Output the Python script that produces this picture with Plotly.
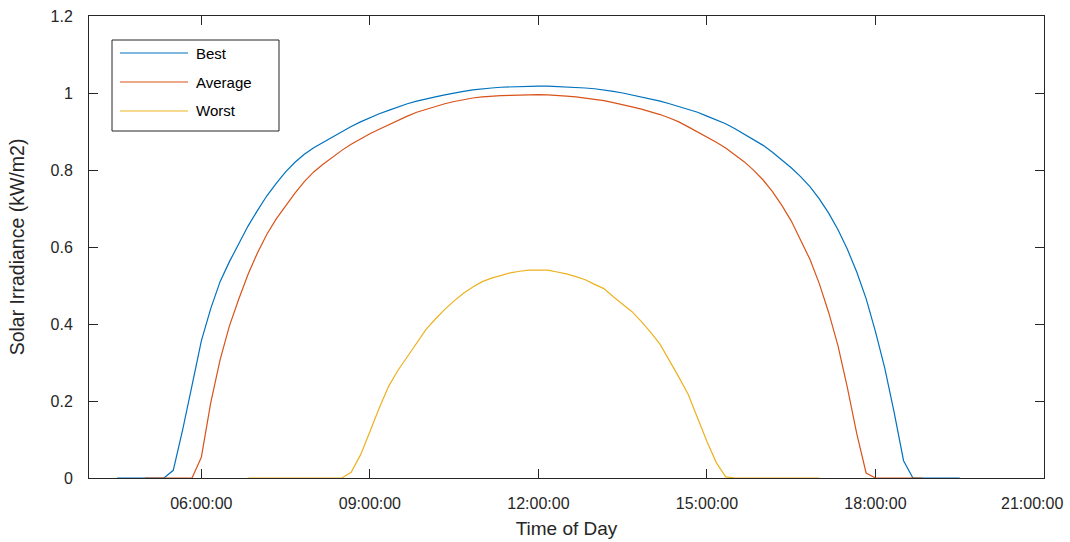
import pandas as pd
import plotly.graph_objects as go

# ---- data (10-minute samples) ----
best_start = "2000-01-01 04:30"
best_values = (
    [0, 0, 0, 0, 0, 0] +                                   # 04:30-05:20
    [0.02, 0.125, 0.24] +                                  # 05:30-05:50
    [0.356, 0.44, 0.51, 0.562, 0.61, 0.655] +              # 06
    [0.695, 0.733, 0.765, 0.795, 0.82, 0.841] +            # 07
    [0.858, 0.872, 0.886, 0.90, 0.913, 0.925] +            # 08
    [0.936, 0.946, 0.955, 0.964, 0.972, 0.979] +           # 09
    [0.985, 0.99, 0.995, 1.0, 1.004, 1.008] +              # 10
    [1.011, 1.013, 1.015, 1.016, 1.017, 1.018] +           # 11
    [1.018, 1.018, 1.017, 1.016, 1.015, 1.013] +           # 12
    [1.011, 1.008, 1.004, 1.0, 0.995, 0.99] +              # 13
    [0.985, 0.979, 0.972, 0.965, 0.958, 0.95] +            # 14
    [0.94, 0.93, 0.92, 0.907, 0.893, 0.879] +              # 15
    [0.864, 0.846, 0.827, 0.806, 0.783, 0.757] +           # 16
    [0.725, 0.688, 0.645, 0.594, 0.535, 0.466] +           # 17
    [0.38, 0.285, 0.17, 0.045] +                           # 18:00-18:30
    [0, 0, 0, 0, 0, 0]                                     # 18:40-19:30
)

average_start = "2000-01-01 05:00"
average_values = (
    [0, 0, 0, 0, 0, 0] +                                   # 05:00-05:50
    [0.054, 0.195, 0.307, 0.395, 0.465, 0.53] +            # 06
    [0.585, 0.633, 0.673, 0.708, 0.74, 0.77] +             # 07
    [0.795, 0.815, 0.834, 0.851, 0.867, 0.881] +           # 08
    [0.894, 0.906, 0.918, 0.929, 0.94, 0.95] +             # 09
    [0.958, 0.965, 0.972, 0.978, 0.983, 0.987] +           # 10
    [0.99, 0.992, 0.993, 0.994, 0.995, 0.996] +            # 11
    [0.996, 0.995, 0.994, 0.992, 0.99, 0.987] +            # 12
    [0.984, 0.98, 0.975, 0.97, 0.964, 0.958] +             # 13
    [0.952, 0.944, 0.935, 0.925, 0.912, 0.899] +           # 14
    [0.886, 0.872, 0.857, 0.84, 0.821, 0.799] +            # 15
    [0.774, 0.744, 0.708, 0.668, 0.62, 0.568] +            # 16
    [0.505, 0.43, 0.343, 0.235, 0.115, 0.013] +            # 17
    [0, 0, 0, 0, 0, 0]                                     # 18:00-18:50
)

worst_start = "2000-01-01 06:50"
worst_values = (
    [0] * 11 +                                             # 06:50-08:30
    [0.015, 0.06] +                                        # 08:40-08:50
    [0.12, 0.182, 0.238, 0.28, 0.315, 0.352] +             # 09
    [0.386, 0.413, 0.438, 0.46, 0.48, 0.496] +             # 10
    [0.51, 0.519, 0.527, 0.533, 0.537, 0.54] +             # 11
    [0.54, 0.54, 0.535, 0.53, 0.523, 0.515] +              # 12
    [0.503, 0.492, 0.471, 0.451, 0.432, 0.406] +           # 13
    [0.378, 0.347, 0.305, 0.262, 0.217, 0.155] +           # 14
    [0.095, 0.04, 0.003] +                                 # 15:00-15:20
    [0] * 10                                               # 15:30-17:00
)

series_names = ["Best", "Average", "Worst"]
series_colors = ["#0072BD", "#D95319", "#EDB120"]
x_range = ["2000-01-01 04:00", "2000-01-01 21:00"]
x_tickvals = ["2000-01-01 06:00", "2000-01-01 09:00", "2000-01-01 12:00",
              "2000-01-01 15:00", "2000-01-01 18:00", "2000-01-01 21:00"]
x_ticktext = ["06:00:00", "09:00:00", "12:00:00", "15:00:00", "18:00:00", ""]
last_tick_label = "21:00:00"   # drawn shifted left so it fits, as in the reference
y_ticks = [0, 0.2, 0.4, 0.6, 0.8, 1.0, 1.2]
y_tick_labels = ["0", "0.2", "0.4", "0.6", "0.8", "1", "1.2"]

series = [(best_start, best_values), (average_start, average_values), (worst_start, worst_values)]

fig = go.Figure()
for (start, vals), name, col in zip(series, series_names, series_colors):
    t = pd.date_range(start=start, periods=len(vals), freq="10min")
    fig.add_trace(go.Scatter(x=t, y=vals, mode="lines", name=name,
                             line=dict(color=col, width=1.2), showlegend=False))

axis_col = "#262626"
fig.update_layout(
    width=1070, height=542,
    margin=dict(l=89, r=26, t=16, b=64),
    paper_bgcolor="white", plot_bgcolor="white",
    font=dict(family="Liberation Sans, Arial, sans-serif", color=axis_col, size=16),
    xaxis=dict(
        type="date", range=x_range, tickvals=x_tickvals, ticktext=x_ticktext,
        showgrid=False, zeroline=False, showline=True, linecolor=axis_col, linewidth=1,
        mirror="allticks", ticks="inside", ticklen=9, tickcolor=axis_col, tickwidth=1,
        tickfont=dict(size=16), ticklabelstandoff=11, automargin=False,
        title=dict(text="Time of Day", font=dict(size=19), standoff=10),
        layer="below traces",
    ),
    yaxis=dict(
        range=[0, 1.2], tickvals=y_ticks, ticktext=y_tick_labels,
        showgrid=False, zeroline=False, showline=True, linecolor=axis_col, linewidth=1,
        mirror="allticks", ticks="inside", ticklen=9, tickcolor=axis_col, tickwidth=1,
        tickfont=dict(size=16), ticklabelstandoff=12, automargin=False,
        title=dict(text="Solar Irradiance (kW/m2)", font=dict(size=19.5), standoff=20),
        layer="below traces",
    ),
)

# last x tick label, right-aligned inside the page like the reference
fig.add_annotation(xref="x", yref="paper", x=x_tickvals[-1], y=0,
                   text=last_tick_label, showarrow=False,
                   xanchor="right", yanchor="top", xshift=21, yshift=-15,
                   font=dict(size=16, color=axis_col))

# custom MATLAB-style legend box
plot_w, plot_h = 955.0, 462.0
def px(xp):
    return (xp - 89) / plot_w
def py(yp):
    return (478 - yp) / plot_h

fig.add_shape(type="rect", xref="paper", yref="paper",
              x0=px(112), x1=px(279), y0=py(131), y1=py(40),
              line=dict(color=axis_col, width=1), fillcolor="white", layer="above")
for i, (name, col) in enumerate(zip(series_names, series_colors)):
    yy = py(53 + 29 * i)
    fig.add_shape(type="line", xref="paper", yref="paper",
                  x0=px(120), x1=px(188), y0=yy, y1=yy,
                  line=dict(color=col, width=1.2), layer="above")
    fig.add_annotation(xref="paper", yref="paper", x=px(194), y=yy,
                       text=name, showarrow=False, xanchor="left", yanchor="middle",
                       font=dict(size=15, color="#000000"))

fig.write_html("out.html")
